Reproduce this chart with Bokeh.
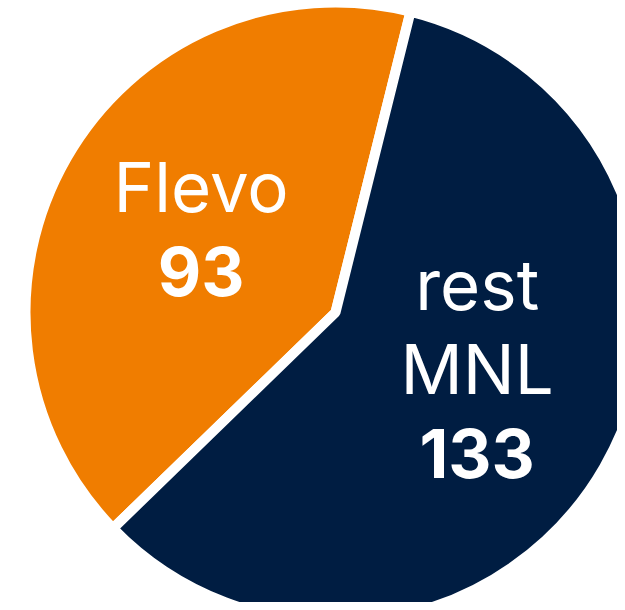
import math
from bokeh.plotting import figure
from bokeh.models import ColumnDataSource, Range1d
from bokeh.core.properties import value
from bokeh.embed import file_html
from bokeh.resources import INLINE

# ---- data ----
categories = ["Flevo", "rest MNL"]
label_lines = [["Flevo"], ["rest", "MNL"]]
values = [93, 133]
colors = ["#F07D00", "#001D42"]

# ---- layout / style ----
W, H = 617, 602
CX, CY = 335, 290          # pie centre in data (pixel) units
R = 310                    # wedge radius (white 10px stroke trims 5px)
START_DEG = 76.0           # first boundary, anticlockwise order
LINE_H = 84
TEXT_SHIFT = -6
FONT = "Inter"
FS = "69px"
FS_NUM = "67px"
label_frac = 0.5
label_shift_deg = [0.0, 6.0]

total = sum(values)
starts, ends = [], []
a = math.radians(START_DEG)
for v in values:
    span = 2 * math.pi * v / total
    starts.append(a)
    ends.append(a + span)
    a += span

p = figure(width=W, height=H, output_backend="svg", toolbar_location=None,
           x_range=Range1d(0, W), y_range=Range1d(0, H), min_border=0)
p.axis.visible = False
p.grid.visible = False
p.outline_line_color = None
p.background_fill_color = "white"
p.border_fill_color = "white"

src = ColumnDataSource(dict(start=starts, end=ends, color=colors))
p.wedge(x=CX, y=CY, radius=R, start_angle="start", end_angle="end",
        fill_color="color", line_color="white", line_width=10, source=src)

# labels
tx, ty, tt, toff = [], [], [], []
nx, ny, nt, noff = [], [], [], []
for i, (lines, v) in enumerate(zip(label_lines, values)):
    mid = (starts[i] + ends[i]) / 2 + math.radians(label_shift_deg[i])
    px = CX + label_frac * R * math.cos(mid)
    py = CY + label_frac * R * math.sin(mid)
    n = len(lines) + 1
    for j, ln in enumerate(lines):
        tx.append(px); ty.append(py); tt.append(ln)
        toff.append(-(n - 1) / 2 * LINE_H + j * LINE_H + TEXT_SHIFT)
    nx.append(px); ny.append(py); nt.append(str(v))
    noff.append(-(n - 1) / 2 * LINE_H + (n - 1) * LINE_H + TEXT_SHIFT)

p.text(x=tx, y=ty, text=tt, y_offset=toff, text_align="center",
       text_baseline="middle", text_color="white",
       text_font=value(FONT), text_font_size=FS)
p.text(x=nx, y=ny, text=nt, y_offset=noff, text_align="center",
       text_baseline="middle", text_color="white",
       text_font=value(FONT), text_font_size=FS_NUM, text_font_style="bold")

open("out.html", "w").write(file_html(p, INLINE))
